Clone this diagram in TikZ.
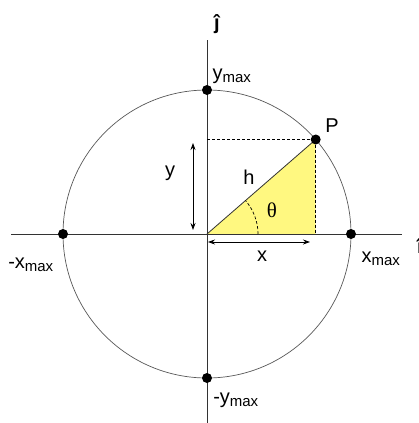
\documentclass[tikz,border=0pt]{standalone}
\usepackage{fontspec}
\setmainfont{Liberation Sans}
\newfontfamily\serifgreek{Liberation Serif}
\usetikzlibrary{arrows.meta,calc}
\begin{document}
\begin{tikzpicture}[x=1pt,y=-1pt,
  axisline/.style={draw=black!80,line width=0.9pt},
  circ/.style={draw=black!65,line width=0.7pt},
  dot/.style={circle,fill=black,inner sep=0pt,minimum size=10pt},
  lbl/.style={inner sep=0pt,font=\fontsize{20}{22}\selectfont},
  dim/.style={draw=black,line width=0.8pt,{Stealth[length=7pt,width=5pt]}-{Stealth[length=7pt,width=5pt]}},
  dashline/.style={draw=black,line width=0.7pt,dash pattern=on 3pt off 2pt}]
\useasboundingbox (0,0) rectangle (418,423);
\fill[white] (0,0) rectangle (418,423);
\coordinate (O) at (207,234);
\coordinate (P) at (315.7,139.5);
\coordinate (Pf) at (315.7,234);
\coordinate (Py) at (207,139.5);
\coordinate (ytop) at (207,40);
\coordinate (ybot) at (207,423);
\coordinate (xl) at (11,234);
\coordinate (xr) at (402,234);
% triangle
\fill[yellow!50!white] (O) -- (P) -- (Pf) -- cycle;
\draw[draw=black!80,line width=0.8pt] (O) -- (P);
% circle
\draw[circ] (O) circle[radius=144];
% axes
\draw[axisline] (ytop) -- (ybot);
\draw[axisline] (xl) -- (xr);
% dashed
\draw[dashline] (Py) -- (P);
\draw[dashline] (P) -- (Pf);
\draw[dashline] ($(O)+(51,0)$) arc[start angle=0,end angle=-41,radius=51];
% dims
\coordinate (ya) at (193,143);
\coordinate (yb) at (193,230);
\coordinate (xa) at (208,242);
\coordinate (xb) at (310,242);
\draw[dim] (ya) -- (yb);
\draw[dim] (xa) -- (xb);
% dots
\node[dot] (top) at (207,90) {};
\node[dot] (bot) at (207,378) {};
\node[dot] (left) at (63,234) {};
\node[dot] (right) at (351,234) {};
\node[dot] (pd) at (P) {};
% labels
\node[lbl,font=\fontsize{20}{22}\selectfont\bfseries] (jhat) at (217,24) {ĵ};
\node[lbl] (ymax) at (232,76) {y\textsubscript{\fontsize{15}{16}\selectfont max}};
\node[lbl] (Plbl) at (332,126) {P};
\node[lbl] (ylbl) at (170,173) {y};
\node[lbl] (hlbl) at (249,177) {h};
\node[lbl,font=\fontsize{21}{22}\selectfont\serifgreek] (th) at (272,210) {θ};
\node[lbl] (xlbl) at (262,256) {x};
\node[lbl] (xmax) at (381,259) {x\textsubscript{\fontsize{15}{16}\selectfont max}};
\node[lbl] (mxmax) at (31,265) {-x\textsubscript{\fontsize{15}{16}\selectfont max}};
\node[lbl] (mymax) at (236,400) {-y\textsubscript{\fontsize{15}{16}\selectfont max}};
\node[lbl,font=\fontsize{20}{22}\selectfont\bfseries] (ihat) at (420,246) {î};
\end{tikzpicture}
\end{document}
